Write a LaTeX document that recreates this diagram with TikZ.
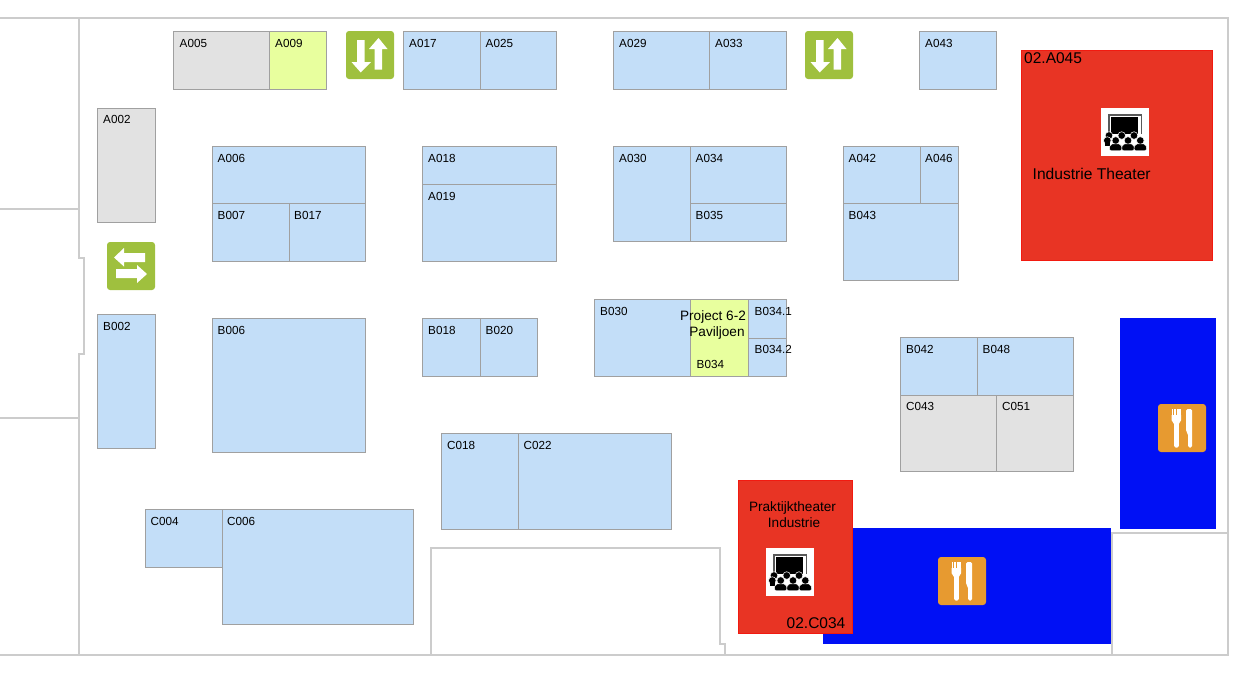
\documentclass[tikz,border=0pt]{standalone}
\usepackage{fontspec}
\setmainfont{Liberation Sans}
\usepackage{xcolor}
\usetikzlibrary{positioning}
\definecolor{standblue}{HTML}{C3DEF8}
\definecolor{standgrey}{HTML}{E2E2E2}
\definecolor{standyellow}{HTML}{E8FF9E}
\definecolor{standedge}{HTML}{A0A0A0}
\definecolor{wallgrey}{HTML}{CCCCCC}
\definecolor{theaterred}{HTML}{E83424}
\definecolor{theateredge}{HTML}{F21A10}
\definecolor{foodblue}{HTML}{0010F5}
\definecolor{stairgreen}{HTML}{9FC03E}
\definecolor{foodorange}{HTML}{E79A30}
\tikzset{
  wall/.style={draw=wallgrey, line width=1.6pt},
  room/.style={draw=standedge, line width=1.2pt, fill=standblue, xshift=0.5pt, yshift=-0.5pt},
  greyroom/.style={room, fill=standgrey},
  yellowroom/.style={room, fill=standyellow},
  redroom/.style={draw=theateredge, line width=1pt, fill=theaterred},
  foodroom/.style={fill=foodblue},
  code/.style={anchor=base west, inner sep=0pt, font=\fontsize{11.7}{14}\selectfont},
  bigcode/.style={anchor=base west, inner sep=0pt, font=\fontsize{15.5}{18}\selectfont},
  title/.style={anchor=base, inner sep=0pt, font=\fontsize{13.6}{16}\selectfont},
  updown/.pic={
    \fill[stairgreen, rounded corners=3pt] (0,0) rectangle (48,48);
    \fill[white] (11,9) -- (18.5,9) -- (18.5,31) -- (25,31) -- (14.75,41.5) -- (5.5,31) -- (11,31) -- cycle;
    \fill[white] (28.5,38.5) -- (36,38.5) -- (36,18) -- (41.5,18) -- (32.5,7) -- (23,18) -- (28.5,18) -- cycle;
  },
  leftright/.pic={
    \fill[stairgreen, rounded corners=3pt] (0,0) rectangle (48,48);
    \fill[white] (38,11) -- (38,20) -- (17,20) -- (17,24.5) -- (7,15.5) -- (17,6) -- (17,11) -- cycle;
    \fill[white] (9,27) -- (9,36) -- (30,36) -- (30,41) -- (40,32) -- (30,23) -- (30,27) -- cycle;
  },
  cutlery/.pic={
    \fill[foodorange, rounded corners=3pt] (0,0) rectangle (48,48);
    \fill[white, rounded corners=1.5pt] (16,14) rectangle (20.8,43.5);
    \fill[white] (13.5,11) -- (23.2,11) -- (23.2,16) -- (20.8,20) -- (16,20) -- (13.5,16) -- cycle;
    \foreach \tine in {13.5,16.1,18.7,21.3}
      \fill[white] (\tine,5) rectangle ++(1.9,8);
    \fill[white, rounded corners=1.5pt] (28,27.5) -- (28,5) -- (34.2,5) -- (34.2,43.5) -- (30,43.5) -- (30,29.5) -- cycle;
  },
  theater/.pic={
    \fill[white] (0,0) rectangle (48,48);
    \fill[black!65] (7,6) rectangle (41,26);
    \fill[white] (8.5,7.5) rectangle (39.5,26);
    \fill[black] (10,9) rectangle (37,26);
    \foreach \seat in {8,20.7,33}
      \fill[black, draw=white, line width=0.5pt] (\seat,27.5) circle (3.8);
    \foreach \seat in {6.3,14.7,27,39.3}
      \fill[black, draw=white, line width=0.5pt] (\seat,32.5) circle (3.8);
    \fill[black] (4,34) rectangle (8.5,38);
    \foreach \seat in {14.7,27,39.3}
      \fill[black, draw=white, line width=0.4pt, rounded corners=2pt] (\seat-6.5,42.5) -- (\seat-5.5,36) -- (\seat+5.5,36) -- (\seat+6.5,42.5) -- cycle;
  },
}
\begin{document}
\begin{tikzpicture}[x=1pt, y=-1pt]
\useasboundingbox (0,0) rectangle (1260,678);

% Walls
\draw[wall] (0,18) -- (1228,18) -- (1228,655) -- (0,655);
\draw[wall] (79,18) -- (79,258) -- (84,258) -- (84,354) -- (79,354) -- (79,655);
\draw[wall] (0,209) -- (79,209);
\draw[wall] (0,418) -- (79,418);
\draw[wall] (431,655) -- (431,548) -- (720,548) -- (720,644) -- (725,644) -- (725,655);
\draw[wall] (1112,655) -- (1112,533) -- (1228,533);

% Top row
\draw[greyroom] (173,31) rectangle (269,89);
\draw[yellowroom] (269,31) rectangle (326,89);
\draw[room] (403,31) rectangle (480,89);
\draw[room] (480,31) rectangle (556,89);
\draw[room] (613,31) rectangle (709,89);
\draw[room] (709,31) rectangle (786,89);
\draw[room] (919,31) rectangle (996,89);

% Left column
\draw[greyroom] (97,108) rectangle (155,222);
\draw[room] (97,314) rectangle (155,448);

% Second row
\draw[room] (212,146) rectangle (365,203);
\draw[room] (212,203) rectangle (289,261);
\draw[room] (289,203) rectangle (365,261);
\draw[room] (422,146) rectangle (556,184);
\draw[room] (422,184) rectangle (556,261);
\draw[room] (613,146) rectangle (690,241);
\draw[room] (690,146) rectangle (786,203);
\draw[room] (690,203) rectangle (786,241);
\draw[room] (843,146) rectangle (920,203);
\draw[room] (920,146) rectangle (958,203);
\draw[room] (843,203) rectangle (958,280);

% Third row
\draw[room] (212,318) rectangle (365,452);
\draw[room] (422,318) rectangle (480,376);
\draw[room] (480,318) rectangle (537,376);
\draw[room] (594,299) rectangle (690,376);
\draw[yellowroom] (690,299) rectangle (748,376);
\draw[room] (748,299) rectangle (786,338);
\draw[room] (748,338) rectangle (786,376);

% Right block
\draw[room] (900,337) rectangle (977,395);
\draw[room] (977,337) rectangle (1073,395);
\draw[greyroom] (900,395) rectangle (996,471);
\draw[greyroom] (996,395) rectangle (1073,471);

% Bottom rows
\draw[room] (441,433) rectangle (518,529);
\draw[room] (518,433) rectangle (671,529);
\draw[room] (145,509) rectangle (222,567);
\draw[room] (222,509) rectangle (413,624);

% Room codes
\begin{scope}[xshift=-0.5pt, yshift=0.5pt]
\node[code] (a005) at (180,48) {A005};
\node[code] (a009) at (275.5,48) {A009};
\node[code] (a017) at (409.5,48) {A017};
\node[code] (a025) at (486,48) {A025};
\node[code] (a029) at (619.5,48) {A029};
\node[code] (a033) at (715.5,48) {A033};
\node[code] (a043) at (925.5,48) {A043};
\node[code] (a002) at (103.5,124) {A002};
\node[code] (b002) at (103.5,331) {B002};
\node[code] (a006) at (218,163) {A006};
\node[code] (b007) at (218,220) {B007};
\node[code] (b017) at (294.5,220) {B017};
\node[code] (a018) at (428.5,163) {A018};
\node[code] (a019) at (428.5,201) {A019};
\node[code] (a030) at (619.5,163) {A030};
\node[code] (a034) at (696,163) {A034};
\node[code] (b035) at (696,220) {B035};
\node[code] (a042) at (849,163) {A042};
\node[code] (a046) at (925.5,163) {A046};
\node[code] (b043) at (849,220) {B043};
\node[code] (b006) at (218,335) {B006};
\node[code] (b018) at (428.5,335) {B018};
\node[code] (b020) at (486,335) {B020};
\node[code] (b030) at (600.5,316) {B030};
\node[code] (b034) at (697,369) {B034};
\node[code] (b0341) at (755,315.5) {B034.1};
\node[code] (b0342) at (755,353.5) {B034.2};
\node[title] (project) at (713.5,320.5) {Project 6-2};
\node[title] (paviljoen) at (717.5,336.5) {Paviljoen};
\node[code] (b042) at (906.5,354) {B042};
\node[code] (b048) at (983,354) {B048};
\node[code] (c043) at (906.5,411) {C043};
\node[code] (c051) at (1002.5,411) {C051};
\node[code] (c018) at (447.5,450) {C018};
\node[code] (c022) at (524,450) {C022};
\node[code] (c004) at (151,526) {C004};
\node[code] (c006) at (227.5,526) {C006};
\end{scope}

% Catering
\fill[foodroom] (1120,318) rectangle (1216,529);
\fill[foodroom] (823,528) rectangle (1111,644);
\pic at (1158,404) {cutlery};
\pic at (938,557) {cutlery};

% Theaters
\draw[redroom] (1021.5,50.5) rectangle (1212.5,260.5);
\draw[redroom] (738,480) rectangle (852.5,633.5);
\pic at (1101,108) {theater};
\pic at (766,548) {theater};
\node[bigcode] (a045) at (1024,63.5) {02.A045};
\node[bigcode] (c034) at (786.5,628.5) {02.C034};
\node[anchor=base west, inner sep=0pt, font=\fontsize{15.6}{18}\selectfont] (industrie) at (1032.5,179) {Industrie Theater};
\node[title] (praktijk) at (792.5,511) {Praktijktheater};
\node[title] (praktijk2) at (794,527) {Industrie};

% Stairs
\pic at (346,31) {updown};
\pic at (805,31) {updown};
\pic at (107,242) {leftright};
\end{tikzpicture}
\end{document}
